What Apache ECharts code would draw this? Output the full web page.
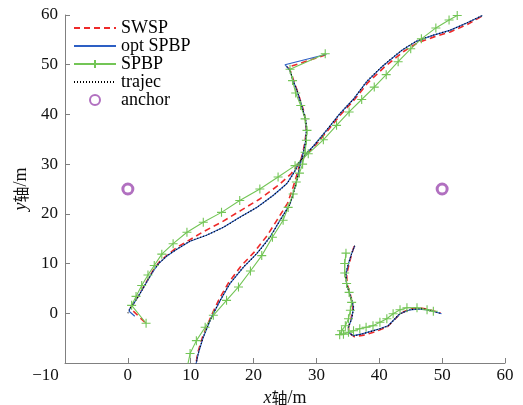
<!DOCTYPE html>
<html>
<head>
<meta charset="utf-8">
<script src="https://cdn.jsdelivr.net/npm/echarts@6/dist/echarts.min.js"></script>
<style>
  html, body { margin: 0; padding: 0; background: #fff; }
  #chart { width: 523px; height: 405px; }
</style>
</head>
<body>
<div id="chart"></div>
<script>
// Axis ticks
const xTicks = [-10, 0, 10, 20, 30, 40, 50, 60];
const yTicks = [-10, 0, 10, 20, 30, 40, 50, 60];

// Anchor positions (m)
const anchors = [[0, 25], [50, 25]];

// True trajectory, three pieces
const trajA = [[0,0],[0.3,0.9],[0.9,1.9],[1.9,3.9],[3.0,6.3],[4.0,8.4],[4.9,10.0],[6.2,11.5],[7.8,12.9],[9.9,14.5],[12.5,15.7],[15.2,17.3],[17.8,19.3],[20.5,21.3],[23.1,23.7],[25.3,26.1],[26.6,28.7],[27.3,30.4],[28.3,32.0],[29.5,33.6],[31.6,36.8],[33.7,40.1],[35.9,43.1],[38.0,46.6],[40.6,49.8],[43.6,52.9],[45.9,54.7],[48.5,55.9],[51.2,56.9],[53.9,58.4],[56.4,59.9]];
const trajB = [[25.3,49.6],[25.8,48.8],[26.3,46.8],[26.9,44.8],[27.4,42.8],[27.9,40.7],[28.3,38.7],[28.4,36.8],[28.3,34.8],[28.0,32.8],[27.5,30.4],[27.1,28.0],[26.6,25.4],[25.8,22.0],[24.2,18.7],[22.6,15.3],[20.5,12.0],[18.4,9.3],[16.2,5.9],[14.7,2.6],[13.3,-0.8],[12.0,-4.8],[11.2,-8.1],[10.8,-10.5]];
const trajC = [[36.1,13.6],[35.6,12.0],[35.1,10.0],[34.7,7.9],[34.8,5.9],[35.3,3.9],[35.9,1.2],[35.6,-1.1],[35.1,-2.8],[35.1,-3.8],[35.9,-4.5],[37.4,-4.1],[39.6,-3.3],[41.4,-2.5],[42.5,-1.1],[43.3,-0.1],[44.9,0.7],[46.5,0.9],[48.1,0.6],[49.9,-0.1]];

// SWSP estimates
const swspA = [[2.7,-1.8],[0.4,1.0],[1.0,2.1],[1.9,4.0],[3.0,6.4],[4.0,8.6],[5.0,10.3],[6.4,11.9],[8.0,13.4],[10.0,14.9],[12.0,16.4],[15.0,18.4],[18.0,20.7],[21.0,23.0],[24.0,25.8],[26.0,28.1],[27.3,30.3],[28.3,31.8],[29.6,33.5],[31.7,36.6],[33.8,39.9],[36.0,42.9],[38.2,46.4],[40.8,49.5],[43.8,52.6],[46.1,54.4],[48.7,55.6],[51.3,56.6],[54.0,58.1],[56.4,59.8]];
const swspB = [[31.5,52.0],[25.5,49.5],[25.9,48.6],[26.4,46.7],[27.0,44.6],[27.5,42.6],[28.0,40.6],[28.3,38.6],[28.4,36.7],[28.2,34.7],[27.9,32.6],[27.4,30.3],[26.9,27.9],[26.3,25.4],[25.4,22.1],[23.8,18.9],[22.2,15.7],[20.1,12.3],[18.0,9.5],[16.0,6.1],[14.5,2.8],[13.2,-0.7],[11.9,-4.7],[11.1,-8.0],[10.8,-10.5]];
const swspC = [[36.0,13.5],[35.6,11.9],[35.2,9.9],[34.8,7.8],[34.9,5.8],[35.4,3.8],[35.8,1.1],[35.5,-1.2],[35.1,-2.9],[35.2,-3.9],[36.0,-4.7],[37.5,-4.4],[39.6,-3.6],[41.3,-2.7],[42.4,-1.3],[43.3,-0.1],[44.9,0.9],[46.5,1.1],[48.1,0.7],[49.8,0.0]];

// Optimised SPBP estimates
const optA = [[1.1,-0.6],[0.2,0.4],[0.3,0.9],[0.9,1.9],[1.9,3.9],[3.0,6.3],[4.0,8.4],[4.9,10.0],[6.2,11.5],[7.8,12.9],[9.9,14.5],[12.5,15.7],[15.2,17.3],[17.8,19.3],[20.5,21.3],[23.1,23.7],[25.3,26.1],[26.6,28.7],[27.3,30.4],[28.3,32.0],[29.5,33.6],[31.6,36.8],[33.7,40.1],[35.9,43.1],[38.0,46.6],[40.6,49.8],[43.6,52.9],[45.9,54.7],[48.5,55.9],[51.2,56.9],[53.9,58.4],[56.4,59.9]];
const optB = [[31.6,52.1],[25.0,50.0],[25.8,48.8],[26.3,46.8],[26.9,44.8],[27.4,42.8],[27.9,40.7],[28.3,38.7],[28.4,36.8],[28.3,34.8],[28.0,32.8],[27.5,30.4],[27.1,28.0],[26.6,25.4],[25.8,22.0],[24.2,18.7],[22.6,15.3],[20.5,12.0],[18.4,9.3],[16.2,5.9],[14.7,2.6],[13.3,-0.8],[12.0,-4.8],[11.2,-8.1],[10.8,-10.5]];
const optC = [[36.1,13.6],[35.6,12.0],[35.1,10.0],[34.7,7.9],[34.8,5.9],[35.3,3.9],[35.9,1.2],[35.6,-1.1],[35.1,-2.8],[35.1,-3.8],[35.9,-4.5],[37.4,-4.1],[39.6,-3.3],[41.4,-2.5],[42.5,-1.1],[43.3,-0.1],[44.9,0.7],[46.5,0.9],[48.1,0.6],[49.9,-0.1]];

// Plain SPBP estimates
const spbpA = [[2.9,-2.0],[0.6,1.6],[1.3,3.4],[2.2,5.6],[3.2,7.7],[4.2,9.6],[5.4,11.9],[7.2,14.0],[9.4,16.3],[12.0,18.3],[14.9,20.3],[17.8,22.7],[21.0,25.0],[23.9,27.4],[26.6,29.7],[28.7,32.1],[31.1,34.9],[33.2,37.8],[35.2,40.5],[37.2,43.0],[39.2,45.5],[41.1,48.0],[43.0,50.6],[45.0,53.2],[46.7,55.2],[49.0,57.4],[51.1,59.0],[52.4,59.9]];
const spbpB = [[31.4,52.2],[25.8,49.1],[26.2,46.8],[26.7,44.3],[27.5,41.8],[28.2,39.1],[28.5,36.8],[28.4,34.8],[28.2,32.4],[27.8,30.0],[27.3,28.2],[26.8,26.4],[26.3,24.0],[25.5,21.3],[24.7,18.7],[23.0,15.3],[21.3,11.6],[19.5,8.5],[17.6,5.3],[15.7,2.6],[13.6,-0.4],[12.3,-2.8],[10.9,-5.5],[9.9,-8.1],[9.5,-10.5]];
const spbpC = [[34.7,12.1],[34.5,10.0],[34.5,8.1],[34.8,6.0],[35.2,4.2],[35.6,2.2],[35.4,0.6],[35.1,-1.1],[34.6,-2.5],[34.0,-3.5],[33.7,-4.3],[34.3,-4.2],[35.1,-3.8],[35.9,-3.5],[36.9,-3.1],[37.9,-2.8],[39.0,-2.5],[40.1,-1.8],[41.2,-1.1],[42.2,-0.1],[43.3,0.7],[44.4,1.1],[46.0,1.1],[47.6,0.7],[48.6,0.4]];

const SERIF = 'Liberation Serif';
const CJK = 'Noto Sans CJK SC';
const RED = '#ee2a2a', BLUE = '#2d5fc4', GREEN = '#73c556', PURPLE = '#9d4cb0';
const PLUS = 'path://M0,5L10,5M5,0L5,10';
const minus = v => String(v).replace('-', '\u2212');

function axisCommon(ticks) {
  return {
    type: 'value',
    min: ticks[0],
    max: ticks[ticks.length - 1],
    interval: ticks[1] - ticks[0],
    axisLine: { show: true, onZero: false, lineStyle: { color: '#808080', width: 1 } },
    axisTick: { show: true, inside: true, length: 5, lineStyle: { color: '#808080' } },
    splitLine: { show: false },
    nameLocation: 'middle',
    nameTextStyle: {
      color: '#111',
      rich: {
        i: { fontFamily: SERIF, fontStyle: 'italic', fontSize: 18, color: '#111' },
        c: { fontFamily: CJK, fontSize: 16, color: '#111' },
        r: { fontFamily: SERIF, fontSize: 18, color: '#111' }
      }
    }
  };
}

function lineSeries(name, data, style, extra) {
  return Object.assign({
    name, type: 'line', data,
    smooth: false,
    symbol: 'none',
    lineStyle: style,
    itemStyle: { color: style.color },
    emphasis: { disabled: true },
    clip: true
  }, extra || {});
}

const redStyle = { color: RED, width: 1.6, type: [6, 4] };
const blueStyle = { color: BLUE, width: 1.2, type: 'solid' };
const greenStyle = { color: GREEN, width: 1.1, type: 'solid' };
const trajStyle = { color: '#000', width: 1.2, type: [1, 2] };
const greenExtra = {
  symbol: PLUS, symbolSize: 9, showSymbol: true,
  itemStyle: { color: GREEN, borderColor: GREEN, borderWidth: 1.1 }
};

const series = [];
[swspA, swspB, swspC].forEach(d => series.push(lineSeries('SWSP', d, redStyle)));
[optA, optB, optC].forEach(d => series.push(lineSeries('opt SPBP', d, blueStyle)));
[spbpA, spbpB, spbpC].forEach(d => series.push(lineSeries('SPBP', d, greenStyle, greenExtra)));
[trajA, trajB, trajC].forEach(d => series.push(lineSeries('trajec', d, trajStyle, { smooth: 0.25 })));
series.push({
  name: 'anchor', type: 'scatter', data: anchors,
  symbol: 'circle', symbolSize: 10,
  itemStyle: { color: 'rgba(255,255,255,0)', borderColor: PURPLE, borderWidth: 3 },
  emphasis: { disabled: true }
});

// legend entries for plain lines carry no marker
const noMark = { color: 'rgba(0,0,0,0)', borderColor: 'rgba(0,0,0,0)', borderWidth: 0 };

const chart = echarts.init(document.getElementById('chart'), null, { renderer: 'canvas' });
chart.setOption({
  animation: false,
  backgroundColor: '#fff',
  grid: { left: 65, right: 18, top: 15, bottom: 42, containLabel: false, outerBoundsMode: 'none' },
  legend: {
    orient: 'vertical',
    left: 73, top: 19,
    itemWidth: 42, itemHeight: 10, itemGap: 0,
    padding: 0,
    selectedMode: false,
    data: [
      { name: 'SWSP', itemStyle: noMark },
      { name: 'opt SPBP', itemStyle: noMark },
      { name: 'SPBP' },
      { name: 'trajec', itemStyle: noMark },
      { name: 'anchor' }
    ],
    textStyle: { fontFamily: SERIF, fontSize: 18, color: '#000', lineHeight: 17.3 }
  },
  xAxis: Object.assign(axisCommon(xTicks), {
    name: '{i|x}{c|轴}{r|/m}', nameGap: 16,
    axisLabel: {
      margin: 4, color: '#111', fontFamily: SERIF, fontSize: 17,
      formatter: v => v === xTicks[0] ? '{lo|' + minus(v) + '}' : minus(v),
      rich: { lo: { fontFamily: SERIF, fontSize: 17, color: '#111', padding: [0, 39, 0, 0] } }
    }
  }),
  yAxis: Object.assign(axisCommon(yTicks), {
    name: '{i|y}{c|轴}{r|/m}', nameGap: 22,
    axisLabel: {
      margin: 7, color: '#111', fontFamily: SERIF, fontSize: 17,
      showMinLabel: false,
      formatter: v => minus(v)
    }
  }),
  series
});
</script>
</body>
</html>
